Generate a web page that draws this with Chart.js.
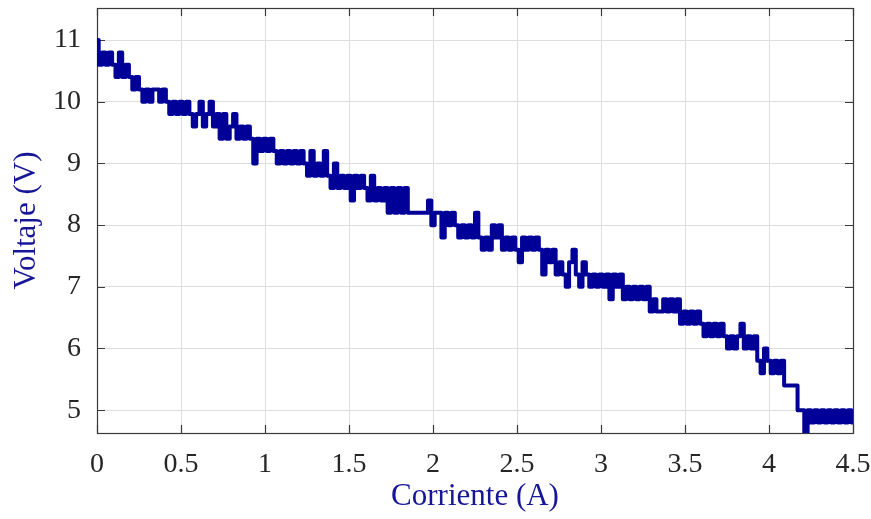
<!DOCTYPE html>
<html>
<head>
<meta charset="utf-8">
<script src="https://cdn.jsdelivr.net/npm/chart.js@4/dist/chart.umd.min.js"></script>
<style>
  html, body { margin: 0; padding: 0; background: #fff; }
  #chart { display: block; }
</style>
</head>
<body>
<canvas id="chart" width="871" height="519"></canvas>
<script>
/* ── data ── */
const corriente = [
  0.00, 0.02, 0.04, 0.06, 0.08, 0.10, 0.12, 0.14, 0.16, 0.18,
  0.20, 0.22, 0.24, 0.26, 0.28, 0.30, 0.32, 0.34, 0.36, 0.38,
  0.40, 0.42, 0.44, 0.46, 0.48, 0.50, 0.52, 0.54, 0.56, 0.58,
  0.60, 0.62, 0.64, 0.66, 0.68, 0.70, 0.72, 0.74, 0.76, 0.78,
  0.80, 0.82, 0.84, 0.86, 0.88, 0.90, 0.92, 0.94, 0.96, 0.98,
  1.00, 1.02, 1.04, 1.06, 1.08, 1.10, 1.12, 1.14, 1.16, 1.18,
  1.20, 1.22, 1.24, 1.26, 1.28, 1.30, 1.32, 1.34, 1.36, 1.38,
  1.40, 1.42, 1.44, 1.46, 1.48, 1.50, 1.52, 1.54, 1.56, 1.58,
  1.60, 1.62, 1.64, 1.66, 1.68, 1.70, 1.72, 1.74, 1.76, 1.78,
  1.80, 1.82, 1.84, 1.86, 1.88, 1.90, 1.92, 1.94, 1.96, 1.98,
  2.00, 2.02, 2.04, 2.06, 2.08, 2.10, 2.12, 2.14, 2.16, 2.18,
  2.20, 2.22, 2.24, 2.26, 2.28, 2.30, 2.32, 2.34, 2.36, 2.38,
  2.40, 2.42, 2.44, 2.46, 2.48, 2.50, 2.52, 2.54, 2.56, 2.58,
  2.60, 2.62, 2.64, 2.66, 2.68, 2.70, 2.72, 2.74, 2.76, 2.78,
  2.80, 2.82, 2.84, 2.86, 2.88, 2.90, 2.92, 2.94, 2.96, 2.98,
  3.00, 3.02, 3.04, 3.06, 3.08, 3.10, 3.12, 3.14, 3.16, 3.18,
  3.20, 3.22, 3.24, 3.26, 3.28, 3.30, 3.32, 3.34, 3.36, 3.38,
  3.40, 3.42, 3.44, 3.46, 3.48, 3.50, 3.52, 3.54, 3.56, 3.58,
  3.60, 3.62, 3.64, 3.66, 3.68, 3.70, 3.72, 3.74, 3.76, 3.78,
  3.80, 3.82, 3.84, 3.86, 3.88, 3.90, 3.92, 3.94, 3.96, 3.98,
  4.00, 4.02, 4.04, 4.06, 4.08, 4.10, 4.12, 4.14, 4.16, 4.18,
  4.20, 4.22, 4.24, 4.26, 4.28, 4.30, 4.32, 4.34, 4.36, 4.38,
  4.40, 4.42, 4.44, 4.46, 4.48, 4.50
];

const voltaje = [
  11.0, 10.6, 10.8, 10.6, 10.8, 10.6, 10.4, 10.8, 10.4, 10.6,
  10.4, 10.2, 10.4, 10.2, 10.0, 10.2, 10.0, 10.2, 10.2, 10.0,
  10.2, 10.0, 9.8, 10.0, 9.8, 10.0, 9.8, 10.0, 9.8, 9.6,
  9.8, 10.0, 9.6, 9.8, 10.0, 9.6, 9.8, 9.4, 9.8, 9.4,
  9.6, 9.8, 9.4, 9.6, 9.4, 9.6, 9.4, 9.0, 9.4, 9.2,
  9.4, 9.2, 9.4, 9.2, 9.0, 9.2, 9.0, 9.2, 9.0, 9.2,
  9.0, 9.2, 9.0, 8.8, 9.2, 8.8, 9.0, 8.8, 9.2, 8.8,
  8.6, 9.0, 8.6, 8.8, 8.6, 8.8, 8.4, 8.8, 8.6, 8.8,
  8.6, 8.4, 8.8, 8.4, 8.6, 8.4, 8.6, 8.2, 8.6, 8.2,
  8.6, 8.2, 8.6, 8.2, 8.2, 8.2, 8.2, 8.2, 8.2, 8.4,
  8.0, 8.2, 8.2, 7.8, 8.2, 8.0, 8.2, 8.0, 7.8, 8.0,
  7.8, 8.0, 7.8, 8.2, 7.8, 7.6, 7.8, 7.6, 8.0, 7.8,
  8.0, 7.6, 7.8, 7.6, 7.8, 7.6, 7.4, 7.8, 7.6, 7.8,
  7.6, 7.8, 7.6, 7.2, 7.6, 7.4, 7.6, 7.2, 7.4, 7.2,
  7.0, 7.4, 7.6, 7.2, 7.0, 7.4, 7.2, 7.0, 7.2, 7.0,
  7.2, 7.0, 7.2, 6.8, 7.2, 7.0, 7.2, 6.8, 7.0, 6.8,
  7.0, 6.8, 7.0, 6.8, 7.0, 6.6, 6.8, 6.6, 6.6, 6.8,
  6.6, 6.8, 6.6, 6.8, 6.4, 6.6, 6.4, 6.6, 6.4, 6.6,
  6.4, 6.2, 6.4, 6.2, 6.4, 6.2, 6.4, 6.2, 6.0, 6.2,
  6.0, 6.2, 6.4, 6.0, 6.2, 6.0, 6.2, 5.8, 5.6, 6.0,
  5.8, 5.6, 5.8, 5.6, 5.8, 5.4, 5.4, 5.4, 5.4, 5.0,
  5.0, 4.6, 5.0, 4.8, 5.0, 4.8, 5.0, 4.8, 5.0, 4.8,
  5.0, 4.8, 5.0, 4.8, 5.0, 4.8
];

const xTicks = [0, 0.5, 1, 1.5, 2, 2.5, 3, 3.5, 4, 4.5];
const yTicks = [5, 6, 7, 8, 9, 10, 11];

const LINE_COLOR  = '#000099';
const TITLE_COLOR = '#161696';
const TEXT_COLOR  = '#262626';
const GRID_COLOR  = '#dedede';
const FRAME_COLOR = '#3a3a3a';

/* MATLAB-style box: frame on all four sides, ticks pointing inward */
const boxFrame = {
  id: 'boxFrame',
  beforeDatasetsDraw(chart) {
    const { ctx, chartArea: a, scales: { x, y } } = chart;
    const len = 8;
    ctx.save();
    ctx.strokeStyle = FRAME_COLOR;
    ctx.lineWidth = 1.2;
    ctx.beginPath();
    x.ticks.forEach(t => {
      const px = Math.round(x.getPixelForValue(t.value)) + 0.5;
      ctx.moveTo(px, a.bottom); ctx.lineTo(px, a.bottom - len);
      ctx.moveTo(px, a.top);    ctx.lineTo(px, a.top + len);
    });
    y.ticks.forEach(t => {
      const py = Math.round(y.getPixelForValue(t.value)) + 0.5;
      ctx.moveTo(a.left, py);  ctx.lineTo(a.left + len, py);
      ctx.moveTo(a.right, py); ctx.lineTo(a.right - len, py);
    });
    ctx.stroke();
    ctx.strokeRect(a.left + 0.5, a.top + 0.5, a.right - a.left, a.bottom - a.top);
    ctx.restore();
  },
};

new Chart(document.getElementById('chart'), {
  type: 'line',
  data: {
    datasets: [{
      data: corriente.map((c, i) => ({ x: c, y: voltaje[i] })),
      borderColor: LINE_COLOR,
      borderWidth: 4,
      borderJoinStyle: 'round',
      borderCapStyle: 'round',
      stepped: 'middle',
      pointRadius: 0,
      fill: false,
    }],
  },
  options: {
    responsive: false,
    animation: false,
    events: [],
    layout: { padding: { top: 8, right: 18, left: 0, bottom: 0 } },
    plugins: { legend: { display: false }, tooltip: { enabled: false } },
    scales: {
      x: {
        type: 'linear',
        min: 0,
        max: 4.5,
        afterBuildTicks: s => { s.ticks = xTicks.map(v => ({ value: v })); },
        afterFit: s => { s.height = 86; s.paddingLeft = 0; s.paddingRight = 0; },
        grid: { color: GRID_COLOR, lineWidth: 1, drawTicks: false },
        border: { display: false },
        ticks: {
          color: TEXT_COLOR,
          padding: 15,
          maxRotation: 0,
          autoSkip: false,
          font: { family: 'Liberation Serif', size: 28 },
          callback: v => String(v),
        },
        title: {
          display: true,
          text: 'Corriente (A)',
          color: TITLE_COLOR,
          font: { family: 'Liberation Serif', size: 31 },
          padding: { top: 0, bottom: 4 },
        },
      },
      y: {
        type: 'linear',
        min: 4.63,
        max: 11.52,
        afterBuildTicks: s => { s.ticks = yTicks.map(v => ({ value: v })); },
        afterFit: s => { s.width = 97; s.paddingTop = 0; s.paddingBottom = 0; },
        grid: { color: GRID_COLOR, lineWidth: 1, drawTicks: false },
        border: { display: false },
        ticks: {
          color: TEXT_COLOR,
          padding: 16,
          autoSkip: false,
          font: { family: 'Liberation Serif', size: 28 },
          callback: v => String(v),
        },
        title: {
          display: true,
          text: 'Voltaje (V)',
          color: TITLE_COLOR,
          font: { family: 'Liberation Serif', size: 31 },
          padding: { top: 8, bottom: 0 },
        },
      },
    },
  },
  plugins: [boxFrame],
});
</script>
</body>
</html>
